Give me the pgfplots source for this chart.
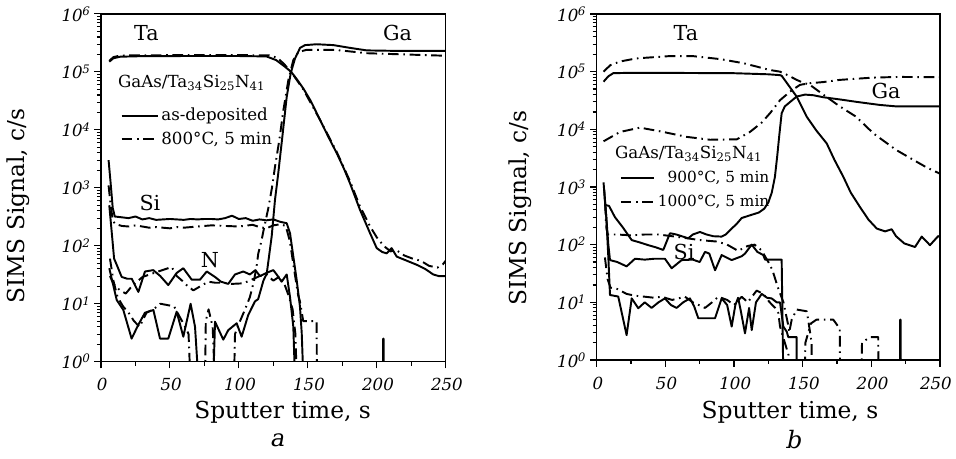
\documentclass[border=0pt]{standalone}
\usepackage{pgfplots}
\pgfplotsset{compat=1.18}
\usepackage{fontspec}
\setmainfont{DejaVu Serif}
\newfontfamily\slfont{DejaVu Serif}[FakeSlant=0.2]

\tikzset{dd/.style={dash pattern=on 8pt off 3.5pt on 1.2pt off 3.5pt}}
\newcommand{\tl}[1]{10\textsuperscript{#1}}

\begin{document}
\begin{tikzpicture}
\path[use as bounding box] (0,0) rectangle (717pt,344.25pt);

% ---- panel a ----
\begin{axis}[
  scale only axis,
  at={(75.75pt,72.98pt)}, anchor=south west,
  width=258.5pt, height=260.8pt,
  ymode=log,
  xmin=0, xmax=250, ymin=1, ymax=1e6,
  xtick={0,50,100,150,200,250},
  minor xtick={25,75,125,175,225},
  xticklabels={0,50,100,150,200,250},
  ytick={1,10,100,1000,10000,100000,1000000},
  minor ytick={2,3,4,5,6,7,8,9,20,30,40,50,60,70,80,90,200,300,400,500,600,700,800,900,2e3,3e3,4e3,5e3,6e3,7e3,8e3,9e3,2e4,3e4,4e4,5e4,6e4,7e4,8e4,9e4,2e5,3e5,4e5,5e5,6e5,7e5,8e5,9e5},
  yticklabels={\tl{0},\tl{1},\tl{2},\tl{3},\tl{4},\tl{5},\tl{6}},
  tick align=outside, xtick pos=left, ytick pos=left,
  axis line style={line width=1pt},
  major tick length=5pt, minor tick length=3pt,
  tick style={black, line width=0.8pt},
  tick label style={font=\fontsize{12.5}{15}\selectfont\slfont},
  xticklabel style={yshift=-4pt},
  label style={font=\fontsize{17.5}{20}\selectfont},
  xlabel={Sputter time, s},
  ylabel={SIMS Signal, c/s},
  every axis plot/.append style={black, line width=1.45pt, line join=round},
  legend image code/.code={\draw[#1] (0pt,0pt) -- (27pt,0pt);},
  xlabel style={at={(rel axis cs:0.527,-0.145)}, anchor=center},
  ylabel style={at={(rel axis cs:-0.24,0.448)}, anchor=center},
  legend style={draw=none, fill=none, at={(rel axis cs:0.045,0.745)}, anchor=north west,
    font=\fontsize{12.5}{14}\selectfont, row sep=3pt},
  legend cell align=left,
]
% Ta
\addplot[no marks, forget plot] coordinates {(6,1.5e5) (9,1.72e5) (14,1.83e5) (30,1.87e5) (60,1.88e5) (100,1.88e5) (120,1.85e5) (127,1.6e5) (133,1.25e5) (138,1.0e5) (142,7.5e4) (146.7,5.2e4) (152,3.2e4) (158.8,1.5e4) (165,7.5e3) (170.9,4e3) (176,2.2e3) (180.6,1.2e3) (187.8,420) (195.1,166) (200,91) (204,78) (207.2,74) (210.8,91) (214.5,65) (222,55) (229,47) (235,40) (241,32) (245,30) (250,30)};
\addplot[no marks, dd, forget plot] coordinates {(6,1.55e5) (9,1.8e5) (14,1.92e5) (60,1.95e5) (100,1.95e5) (122,1.93e5) (128,1.75e5) (133,1.35e5) (137,1.05e5) (140,8.5e4) (146.7,5e4) (158.8,1.5e4) (170.9,4.2e3) (180.6,1.3e3) (187.8,480) (195,220) (200,140) (205,100) (210,80) (214,85) (220,68) (226,60) (232,55) (238,45) (244,42) (248,48) (250,55)};
% Ga
\addplot[no marks, forget plot] coordinates {(6,41) (11.4,11.6) (16.2,7.8) (22.2,2.5) (27,4.3) (31.9,7) (38,7.8) (42.8,2.5) (48.8,2.5) (54.9,7.3) (59.7,2.7) (65,10) (68.2,4) (70.6,0.5) (81.5,0.5) (82.7,4.9) (88.7,2.4) (92.3,3.5) (98.4,4.6) (102,2.7) (106.8,6.4) (111.7,11) (114,12) (117.8,25) (120.2,33) (121.4,54) (123.8,145) (126.2,620) (128.6,1.8e3) (131.8,8.7e3) (134.7,3.7e4) (137.6,9.5e4) (140.7,1.7e5) (144.4,2.6e5) (148,2.9e5) (156.4,3e5) (168.5,2.9e5) (180.6,2.6e5) (192.7,2.35e5) (217,2.3e5) (250,2.3e5)};
\addplot[no marks, dd, forget plot] coordinates {(6.5,60) (9,25) (12,13) (16,9) (20,7) (24,5) (28,4) (33,7) (38,8) (43,10) (48,9.5) (53,9) (57,6) (61,4) (63.5,3) (64.8,0.5) (75.5,0.5) (76,5) (78,8) (81,4) (82.5,0.5) (96.5,0.5) (97.2,3) (100,4.5) (104,7.5) (108,13) (111,25) (113,47) (114.1,74) (116.5,125) (117.7,175) (121.4,450) (124,1000) (126.2,2300) (129.4,6800) (132.3,2.2e4) (135.9,7.2e4) (139.5,1.6e5) (143.2,2.2e5) (149,2.4e5) (170,2.4e5) (193,2.1e5) (250,1.9e5)};
% Si
\addplot[no marks, forget plot] coordinates {(5.5,3000) (7,1200) (8.5,450) (10,320) (15,310) (20,300) (25,320) (30,285) (35,300) (40,280) (45,285) (50,290) (55,285) (60,280) (65,290) (70,285) (75,290) (80,290) (85,285) (90,300) (95,330) (100,290) (105,300) (110,270) (115,285) (120,275) (125,285) (129.8,260) (134.7,245) (137.1,165) (139.5,65) (141.9,26) (144.3,9) (145.6,3.1) (146.8,0.5)};
\addplot[no marks, dd, forget plot] coordinates {(5.5,1100) (7,500) (8.5,280) (10,240) (15,220) (20,215) (25,225) (30,215) (35,205) (40,210) (50,200) (55,210) (60,205) (70,215) (80,225) (90,220) (100,215) (110,230) (115,210) (120,200) (125,225) (130,235) (134,220) (137,120) (140,40) (143,14) (144.3,11) (146.7,5) (156.4,5) (156.6,0.5)};
% N
\addplot[no marks, forget plot] coordinates {(6,500) (8,150) (9.5,60) (11.4,47) (15,29) (19,27) (22.3,27) (27.1,16) (31.9,36) (37.9,38) (43,30) (48.8,21) (54.9,34) (59.7,41) (65.8,26) (71.8,26) (76.7,36) (82.7,29) (87,24) (92.3,22) (97.2,32) (103.2,36) (108,32) (112,38) (115.3,30) (120,34) (125,38) (127.4,32) (131,24) (134.7,32) (137.1,13) (139.5,4) (140.7,0.5) (204.5,0.5) (204.7,2.5) (205,2.5) (205.2,0.5)};
\addplot[no marks, dd, forget plot] coordinates {(6.5,30) (9,22) (13.8,17) (18,15) (22.3,20) (26,24) (30.2,29) (40,35) (51.3,43) (55,30) (59.7,24) (63,20) (67,17) (72,20) (77.8,24) (83,23) (88.7,23) (95,22) (103.2,22.5) (109.3,26) (115,30) (120,32) (125,25) (130,30) (133,22) (136,14) (139,8) (141,3) (142,0.5)};

\addlegendimage{black, line width=1.45pt}
\addlegendentry{as-deposited}
\addlegendimage{black, line width=1.45pt, dd}
\addlegendentry{800°C, 5 min}

\node[font=\fontsize{15.5}{17}\selectfont] at (axis cs:33,4.7e5) {Ta};
\node[font=\fontsize{15.5}{17}\selectfont] at (axis cs:215,4.7e5) {Ga};
\node[font=\fontsize{15.5}{17}\selectfont] at (axis cs:35.5,550) {Si};
\node[font=\fontsize{15.5}{17}\selectfont] at (axis cs:79,56) {N};
\node[anchor=west, inner sep=0pt, font=\fontsize{12.5}{14}\selectfont] at (rel axis cs:0.049,0.802) {GaAs/Ta\textsubscript{34}Si\textsubscript{25}N\textsubscript{41}};
\end{axis}

% ---- panel b ----
\begin{axis}[
  scale only axis,
  at={(447.5pt,74.25pt)}, anchor=south west,
  width=257.5pt, height=259.5pt,
  ymode=log,
  xmin=0, xmax=250, ymin=1, ymax=1e6,
  xtick={0,50,100,150,200,250},
  minor xtick={25,75,125,175,225},
  xticklabels={0,50,100,150,200,\kern-8pt 250},
  ytick={1,10,100,1000,10000,100000,1000000},
  minor ytick={2,3,4,5,6,7,8,9,20,30,40,50,60,70,80,90,200,300,400,500,600,700,800,900,2e3,3e3,4e3,5e3,6e3,7e3,8e3,9e3,2e4,3e4,4e4,5e4,6e4,7e4,8e4,9e4,2e5,3e5,4e5,5e5,6e5,7e5,8e5,9e5},
  yticklabels={\tl{0},\tl{1},\tl{2},\tl{3},\tl{4},\tl{5},\tl{6}},
  tick align=outside, xtick pos=left, ytick pos=left,
  axis line style={line width=1pt},
  major tick length=5pt, minor tick length=3pt,
  tick style={black, line width=0.8pt},
  tick label style={font=\fontsize{12.5}{15}\selectfont\slfont},
  xticklabel style={yshift=-4pt},
  label style={font=\fontsize{17.5}{20}\selectfont},
  xlabel={Sputter time, s},
  ylabel={SIMS Signal, c/s},
  every axis plot/.append style={black, line width=1.45pt, line join=round},
  legend image code/.code={\draw[#1] (0pt,0pt) -- (25pt,0pt);},
  xlabel style={at={(rel axis cs:0.563,-0.150)}, anchor=center},
  ylabel style={at={(rel axis cs:-0.223,0.439)}, anchor=center},
  legend style={draw=none, fill=none, at={(rel axis cs:0.055,0.562)}, anchor=north west,
    font=\fontsize{11.5}{13}\selectfont, row sep=4pt},
  legend cell align=right,
]
% Ta
\addplot[no marks, forget plot] coordinates {(5,6.7e4) (8.5,8.3e4) (12,9.4e4) (20,9.5e4) (60,9.5e4) (100,9.4e4) (125,9e4) (133.5,8.7e4) (134.7,8.5e4) (145.6,3.7e4) (152.9,1.66e4) (160,9.5e3) (167.5,5.7e3) (173,3e3) (179.6,1.5e3) (185,800) (191.7,450) (198,270) (204,190) (210,170) (214.8,185) (218,140) (224,105) (231.8,91) (236.7,138) (242.7,98) (248.7,141) (250,135)};
\addplot[no marks, dd, forget plot] coordinates {(5,1e5) (10,1.3e5) (17,1.5e5) (29,1.7e5) (53,1.86e5) (70,1.86e5) (90,1.65e5) (107,1.4e5) (126,1.07e5) (133.5,1e5) (140,8.5e4) (145.6,7.2e4) (150,6.5e4) (155.3,5.9e4) (165,4e4) (177,2.5e4) (189,1.65e4) (201.5,8.5e3) (218,4.4e3) (230.6,2.95e3) (240,2.2e3) (250,1.7e3)};
% Ga
\addplot[no marks, forget plot] coordinates {(6,490) (9,470) (13.3,300) (19,200) (25.5,120) (31,110) (37.6,98) (43,90) (48.5,81) (53.4,158) (58,150) (62,140) (66.7,129) (70,150) (75.2,166) (80,150) (85,140) (91,138) (94,150) (98.3,190) (102,230) (105.6,290) (112.9,330) (118,360) (122,420) (125,540) (127.5,800) (129.8,1500) (131.5,3500) (133,8000) (134.7,1.9e4) (137,2.5e4) (141,3e4) (145.6,3.7e4) (151.7,4e4) (157.8,3.9e4) (165,3.6e4) (177,3.3e4) (189,3e4) (206,2.65e4) (218,2.5e4) (250,2.5e4)};
\addplot[no marks, dd, forget plot] coordinates {(5,6.2e3) (17,9e3) (31.6,1.07e4) (48.5,9e3) (65.5,7.4e3) (82.5,6.6e3) (102,6.7e3) (111.6,9e3) (120,1.3e4) (126.2,1.9e4) (133.5,3.2e4) (140.8,4.5e4) (148,5.9e4) (155,6.3e4) (165,6.6e4) (177,7.2e4) (201.5,7.9e4) (221,8.1e4) (250,8e4)};
% Si
\addplot[no marks, forget plot] coordinates {(5.5,900) (7,300) (8.5,100) (9.7,54) (15,50) (21.8,42) (27.9,57) (35,55) (42,57) (49.7,57) (54.6,39) (61.9,54) (70,55) (75,50) (78.9,75) (82,70) (86.2,36) (91,66) (98.3,54) (105.6,63) (108,70) (112.9,100) (117,75) (121.3,66) (122.6,55) (134.7,55) (135.9,0.5)};
\addplot[no marks, dd, forget plot] coordinates {(5,1200) (6,600) (7,200) (8,150) (15,150) (25,145) (35,150) (45,150) (55,140) (65,130) (75,120) (88,113) (95,100) (103,78) (110,95) (115,100) (120,80) (125,50) (128,36) (132,18) (136,10) (139.5,4) (140.2,3) (142,5) (145.6,7.5) (152.9,7) (154,5) (156.5,2) (156.6,0.5)};
% N
\addplot[no marks, forget plot] coordinates {(5.5,800) (7,300) (8.5,60) (9.7,13.4) (15.7,12.6) (21.8,2.7) (25.5,11.7) (30.3,7.9) (35,10) (40,8) (45,10) (49.7,11.7) (54,9) (58.2,8) (63,10) (67.9,11.7) (71,8.5) (74,5.3) (86.2,5.3) (91,11.7) (95,9) (98.3,3.8) (101,9) (103,12) (105,7) (108,2.9) (111,8) (112.9,3.3) (116,10) (120.2,14) (124,12) (127.4,11.7) (131.1,10) (133.5,10) (135.9,3.8) (138.4,3.1) (139.5,2.5) (145.6,2.5) (145.7,0.5) (220.8,0.5) (221,5) (221.3,5) (221.5,0.5)};
\addplot[no marks, dd, forget plot] coordinates {(6,60) (8,25) (10,18) (15,17) (21.8,14) (28,13) (35.2,12.5) (42,12) (47.3,12.5) (55,11) (64.3,12.5) (70,10) (78.9,8) (84,10) (88.6,12.5) (95,11) (100,9) (105.6,12.5) (110,10) (116.5,16) (121.3,14) (126,10) (130,8) (132.3,6.5) (133.5,3.8) (137,2) (139.8,1.2) (140,0.5) (151.5,0.5) (152,2) (156,4.3) (160,5) (165,5) (172.3,5) (177,3.5) (177.3,0.5) (192.8,0.5) (193.2,2) (199,2.5) (205,2.5) (205.2,0.5) (250,0.5)};

\addlegendimage{black, line width=1.45pt}
\addlegendentry{900°C, 5 min}
\addlegendimage{black, line width=1.45pt, dd}
\addlegendentry{1000°C, 5 min}

\node[font=\fontsize{15.5}{17}\selectfont] at (axis cs:65,4.7e5) {Ta};
\node[font=\fontsize{15.5}{17}\selectfont] at (axis cs:210.7,4.7e4) {Ga};
\node[font=\fontsize{15.5}{17}\selectfont] at (axis cs:63.6,75) {Si};
\node[anchor=west, inner sep=0pt, font=\fontsize{12.5}{14}\selectfont] at (rel axis cs:0.053,0.595) {GaAs/Ta\textsubscript{34}Si\textsubscript{25}N\textsubscript{41}};
\end{axis}

% panel letters
\node[font=\fontsize{18}{20}\selectfont\slfont] at (207.75pt,14.25pt) {a};
\node[font=\fontsize{18}{20}\selectfont\slfont] at (594.75pt,14.25pt) {b};
\end{tikzpicture}
\end{document}
